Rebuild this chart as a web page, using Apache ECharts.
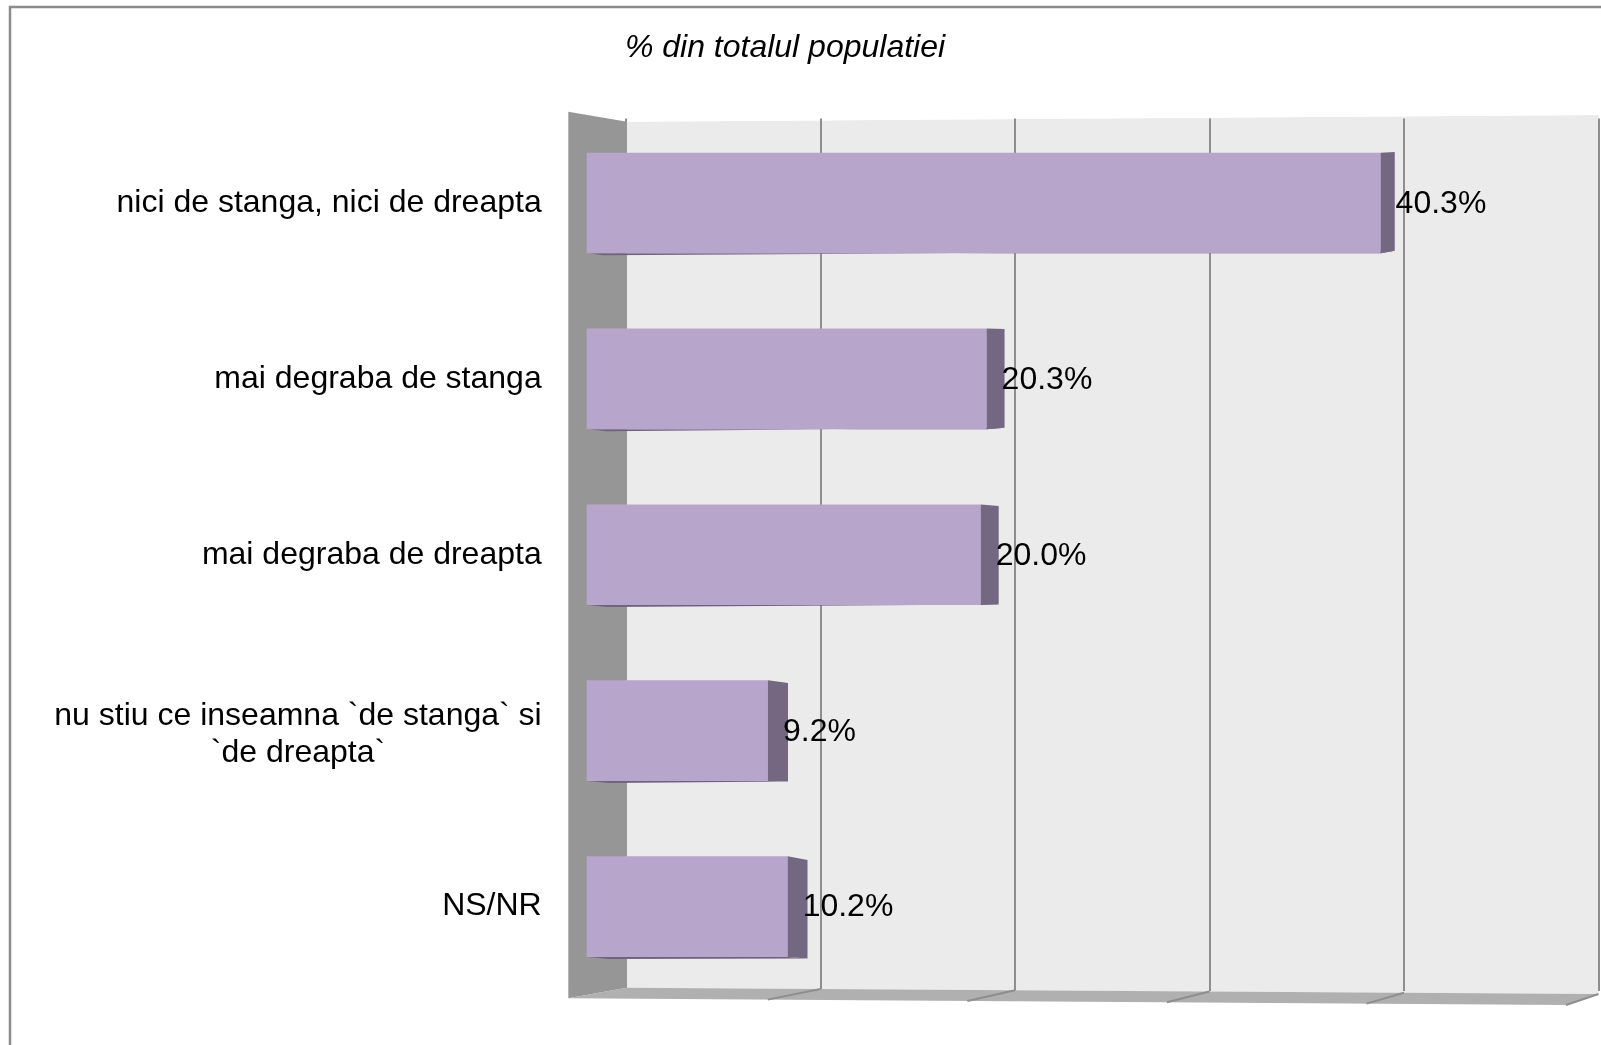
<!DOCTYPE html>
<html>
<head>
<meta charset="utf-8">
<script src="https://cdn.jsdelivr.net/npm/echarts@6/dist/echarts.min.js"></script>
<style>
html,body{margin:0;padding:0;background:#fff;}
#chart{width:1601px;height:1045px;}
</style>
</head>
<body>
<div id="chart"></div>
<script>
// ---- data ----
const categories = [
  'nici de stanga, nici de dreapta',
  'mai degraba de stanga',
  'mai degraba de dreapta',
  'nu stiu ce inseamna `de stanga` si\n`de dreapta`',
  'NS/NR'
];
const values = [40.3, 20.3, 20.0, 9.2, 10.2];
const axisTicks = [0, 10, 20, 30, 40, 50];
const titleText = '% din totalul populatiei';

// ---- styling / geometry ----
const FONT = 'Arial, "Liberation Sans", sans-serif';
const LABEL_FS = 32;
const FRONT = '#b7a5cb';
const SIDE = '#736781';
const WALL = '#ebebeb';
const LWALL = '#969696';
const FLOOR = '#b0b0b0';
const GRID = '#8e8e8e';

const chart = echarts.init(document.getElementById('chart'), null, {renderer: 'canvas'});

const seriesData = values.map((v, i) => [i, v]);

// width of the longest wrapped line, so that wrapped lines are centred within their block
const mctx = document.createElement('canvas').getContext('2d');
mctx.font = LABEL_FS + 'px ' + FONT;
let wrapW = 0;
categories.forEach(c => {
  const ls = c.split('\n');
  if (ls.length > 1) ls.forEach(l => { wrapW = Math.max(wrapW, mctx.measureText(l).width); });
});

function renderBar(params, api) {
  const idx = api.value(0);
  const v = api.value(1);
  const p0 = api.coord([0, idx]);
  const p1 = api.coord([v, idx]);
  const band = api.size([0, 1])[1];
  const h = band * 0.572;
  const yc = p1[1];
  const yT = yc - h / 2, yB = yc + h / 2;
  const x0 = p0[0], x1 = p1[0];
  const d = 21.8 - 0.19 * v;
  const shift = (465 - yc) * 0.006;
  return {
    type: 'group',
    children: [
      {
        type: 'polygon',
        shape: {points: [[x0 + 2, yB], [x1, yB], [x1 + d, yB - 1 - shift], [x0 + 2 + d, yB + 2]]},
        style: {fill: '#6f627e'}
      },
      {
        type: 'rect',
        shape: {x: x0, y: yT, width: x1 - x0, height: h},
        style: {fill: FRONT}
      },
      {
        type: 'polygon',
        shape: {points: [[x1, yT], [x1 + d, yT + 1 - shift], [x1 + d, yB - 1 - shift], [x1, yB]]},
        style: {fill: SIDE}
      },
      {
        type: 'text',
        style: {
          text: v.toFixed(1) + '%',
          x: x1 + 15,
          y: yc + 1,
          verticalAlign: 'middle',
          align: 'left',
          font: LABEL_FS + 'px ' + FONT,
          fill: '#000'
        }
      }
    ]
  };
}

const option = {
  animation: false,
  backgroundColor: '#ffffff',
  title: {
    text: titleText,
    left: 780,
    top: 27,
    textAlign: 'center',
    textStyle: {fontFamily: FONT, fontSize: 32, fontStyle: 'italic', fontWeight: 'normal', color: '#000'}
  },
  grid: [
    {left: 626, right: 2.5, top: 118.5, bottom: 54, containLabel: false},
    {left: 586.7, right: 1601 - 1571.7, top: 115, bottom: 50.45, containLabel: false}
  ],
  xAxis: [
    {
      gridIndex: 0, type: 'value', min: axisTicks[0], max: axisTicks[axisTicks.length - 1],
      interval: axisTicks[1] - axisTicks[0],
      axisLine: {show: false}, axisTick: {show: false}, axisLabel: {show: false},
      splitLine: {show: true, lineStyle: {color: GRID, width: 2}}
    },
    {
      gridIndex: 1, type: 'value', min: axisTicks[0], max: axisTicks[axisTicks.length - 1],
      interval: axisTicks[1] - axisTicks[0],
      axisLine: {show: false}, axisTick: {show: false}, axisLabel: {show: false},
      splitLine: {show: false}
    }
  ],
  yAxis: [
    {
      gridIndex: 0, type: 'category', data: categories, inverse: true,
      axisLine: {show: false}, axisTick: {show: false}, axisLabel: {show: false}, splitLine: {show: false}
    },
    {
      gridIndex: 1, type: 'category', data: categories, inverse: true,
      axisLine: {show: false}, axisTick: {show: false}, splitLine: {show: false},
      axisLabel: {
        show: true, margin: 45, fontFamily: FONT, fontSize: LABEL_FS, color: '#000',
        align: 'right', lineHeight: 37,
        formatter: function (val) {
          const ls = val.split('\n');
          if (ls.length === 1) return val;
          return ls.map(l => '{c|' + l + '}').join('\n');
        },
        rich: {
          c: {width: wrapW, align: 'center', fontFamily: FONT, fontSize: LABEL_FS, color: '#000', lineHeight: 37, padding: [8, 0, 0, 0]}
        }
      }
    }
  ],
  series: [
    {
      type: 'custom',
      xAxisIndex: 1,
      yAxisIndex: 1,
      data: seriesData,
      renderItem: renderBar,
      z: 5,
      encode: {x: 1, y: 0}
    }
  ]
};
chart.setOption(option);

// 3D frame decoration (walls, floor) aligned to the back-wall axis
function frame() {
  const xb = v => chart.convertToPixel({xAxisIndex: 0}, v);
  const xL = xb(0), xR = xb(50);
  const frontL = 568.3, frontR = 1566;
  const xf = v => frontL + (frontR - frontL) * v / 50;
  const backTop = x => 121.7 + (x - xL) * (115 - 121.7) / (xR - xL);
  const backBot = x => 987.7 + (x - xL) * (994 - 987.7) / (xR - xL);
  const frontBot = x => 998.3 + (x - frontL) * (1005 - 998.3) / (frontR - frontL);
  const els = [];
  els.push({type: 'polygon', z: -10, silent: true,
    shape: {points: [[xL, backTop(xL)], [xR, backTop(xR)], [xR, backBot(xR)], [xL, backBot(xL)]]},
    style: {fill: WALL}});
  els.push({type: 'polygon', z: 1, silent: true,
    shape: {points: [[frontL, 111.7], [xL + 1, backTop(xL)], [xL + 1, backBot(xL)], [frontL, frontBot(frontL)]]},
    style: {fill: LWALL}});
  els.push({type: 'polygon', z: 1, silent: true,
    shape: {points: [[frontL, frontBot(frontL)], [xL, backBot(xL)], [xR, backBot(xR)], [frontR, frontBot(frontR)]]},
    style: {fill: FLOOR}});
  axisTicks.slice(1).forEach(v => {
    const a = xb(v), b = xf(v);
    els.push({type: 'line', z: 1, silent: true,
      shape: {x1: a, y1: backBot(a), x2: b, y2: frontBot(b)},
      style: {stroke: GRID, lineWidth: 2}});
  });
  els.push({type: 'polygon', z: -5, silent: true,
    shape: {points: [[xL, 110], [xR + 3, 110], [xR + 3, backTop(xR)], [xL, backTop(xL)]]},
    style: {fill: '#fff'}});
  els.push({type: 'rect', z: 10, silent: true,
    shape: {x: 10, y: 7, width: 1700, height: 1100},
    style: {fill: 'none', stroke: '#8c8c8c', lineWidth: 2.5}});
  chart.setOption({graphic: {elements: els}});
}
frame();
</script>
</body>
</html>
